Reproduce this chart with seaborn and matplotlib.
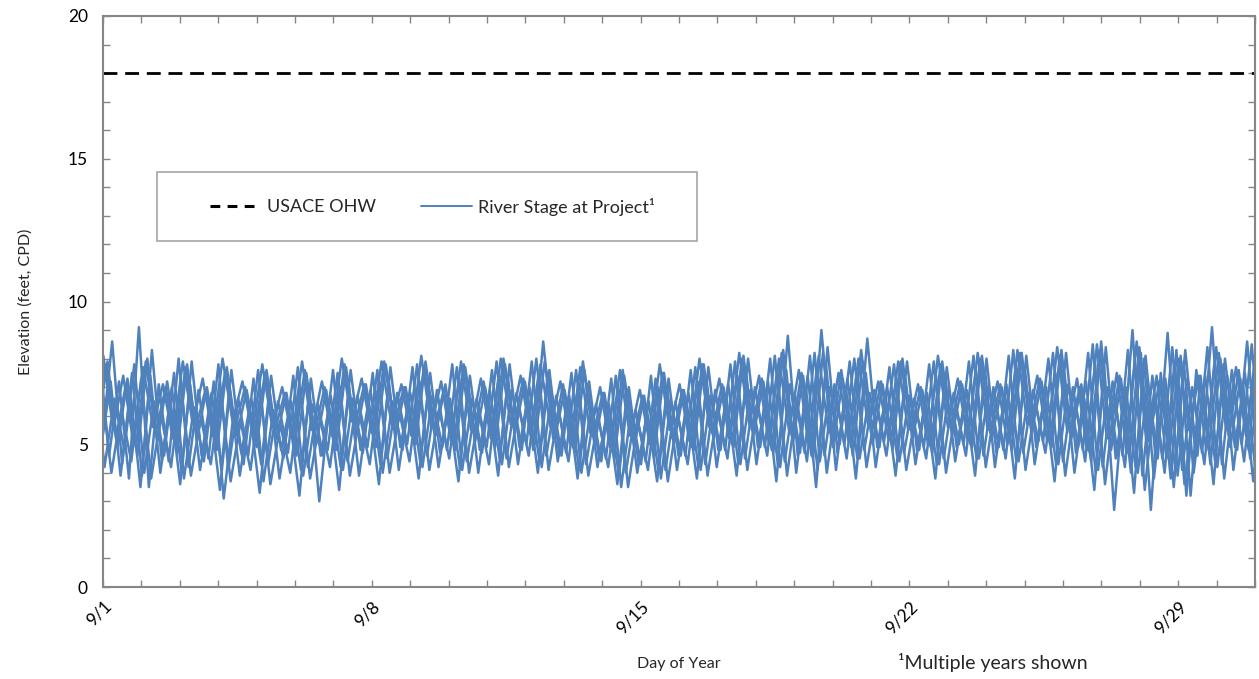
import numpy as np
import pandas as pd
import matplotlib
matplotlib.use("Agg")
import matplotlib.pyplot as plt
from matplotlib.lines import Line2D
from matplotlib.patches import Rectangle
from matplotlib.ticker import MultipleLocator
import seaborn as sns

# Tidal high/low extremes of the river stage (feet, CPD), one list per year,
# successive extremes ~6.21 hours apart.
TIDE_STEP_DAYS = 0.25875
start_offsets = [-0.10, -0.02, -0.18, -0.06, -0.22, -0.14, -0.04, -0.25]

stage_y1 = [8.3, 4.6, 7.2, 3.8, 9.1, 3.5, 7.1, 4.4, 8.0, 4.2, 6.9, 4.5, 7.8, 4.1, 6.6, 4.6,
            7.6, 4.3, 6.5, 4.7, 7.7, 4.2, 6.4, 4.8, 7.5, 4.4, 6.7, 4.9, 7.6, 4.5, 6.8, 5.0,
            7.8, 4.6, 6.9, 4.8, 7.7, 4.4, 6.6, 4.9, 7.9, 4.5, 6.8, 5.0, 8.0, 4.6, 6.7, 4.7,
            7.6, 4.3, 6.4, 4.5, 7.4, 4.0, 6.2, 4.4, 7.3, 4.1, 6.5, 4.6, 7.7, 4.3, 6.9, 4.8,
            7.9, 4.5, 7.0, 4.9, 8.1, 4.4, 6.8, 4.7, 8.2, 4.6, 7.1, 5.0, 8.0, 4.8, 6.9, 5.1,
            7.8, 4.7, 6.6, 4.9, 7.9, 4.5, 6.8, 5.0, 8.1, 4.6, 7.0, 4.8, 8.3, 4.7, 6.9, 5.1,
            8.2, 4.4, 7.0, 4.8, 8.5, 4.2, 7.2, 4.6, 9.0, 3.9, 7.4, 4.5, 8.4, 4.1, 7.0, 4.7,
            9.1, 4.3, 7.6, 5.0, 8.5, 4.4]
stage_y2 = [5.2, 8.6, 4.3, 7.5, 3.9, 8.3, 4.4, 7.0, 4.0, 7.9, 4.6, 6.8, 4.2, 7.6, 4.7, 6.6,
            4.3, 7.4, 4.8, 6.5, 4.1, 7.3, 4.6, 6.7, 4.2, 7.6, 4.8, 6.9, 4.3, 7.7, 4.9, 6.8,
            4.4, 7.5, 4.7, 6.6, 4.2, 7.4, 4.8, 6.9, 4.5, 7.8, 4.9, 7.0, 4.4, 7.6, 4.6, 6.7,
            4.1, 7.2, 4.5, 6.4, 3.9, 7.0, 4.3, 6.5, 4.0, 7.3, 4.6, 6.8, 4.2, 7.7, 4.8, 7.1,
            4.4, 8.0, 4.9, 7.2, 4.3, 8.8, 4.6, 7.4, 4.1, 8.4, 4.7, 7.3, 4.5, 8.7, 4.9, 7.0,
            4.6, 7.9, 4.8, 6.8, 4.3, 7.7, 4.9, 6.9, 4.5, 8.0, 4.7, 7.1, 4.4, 8.1, 4.9, 7.0,
            4.3, 8.2, 4.7, 7.2, 4.0, 8.4, 4.5, 7.0, 4.2, 8.1, 4.6, 7.3, 4.1, 8.3, 4.8, 7.4,
            4.4, 8.0, 4.9, 7.5, 4.3, 8.2]
stage_y3 = [6.0, 7.8, 5.2, 7.1, 4.9, 7.9, 5.4, 7.0, 5.0, 7.7, 5.5, 6.9, 5.1, 7.6, 5.6, 7.0,
            5.2, 7.5, 5.5, 6.8, 5.0, 7.6, 5.4, 7.0, 5.1, 7.8, 5.6, 7.1, 5.3, 7.9, 5.7, 7.0,
            5.2, 7.7, 5.5, 6.9, 5.0, 7.8, 5.4, 7.2, 5.1, 8.0, 5.6, 7.3, 4.8, 8.6, 5.2, 7.1,
            4.9, 7.9, 5.3, 6.8, 4.7, 7.6, 5.1, 6.7, 4.8, 7.5, 5.2, 6.9, 4.9, 7.8, 5.4, 7.1,
            5.0, 8.0, 5.5, 7.3, 4.8, 8.2, 5.3, 7.5, 4.6, 9.0, 5.1, 7.6, 4.9, 8.3, 5.4, 7.2,
            5.1, 7.9, 5.5, 7.0, 4.9, 7.8, 5.6, 7.2, 5.0, 8.0, 5.4, 7.1, 5.2, 8.2, 5.7, 7.3,
            5.0, 8.1, 5.4, 7.0, 4.7, 8.3, 5.2, 7.4, 4.6, 8.4, 5.1, 7.2, 4.8, 8.0, 5.5, 7.4,
            4.9, 8.2, 5.3, 7.6, 4.8, 8.8]
stage_y4 = [4.8, 7.2, 3.9, 6.8, 3.5, 7.4, 4.0, 6.5, 3.6, 7.1, 4.1, 6.3, 3.4, 6.9, 3.9, 6.2,
            3.3, 6.8, 3.8, 6.0, 3.2, 6.9, 3.0, 6.3, 3.4, 7.0, 3.9, 6.4, 3.6, 7.2, 4.1, 6.5,
            3.8, 7.0, 4.2, 6.3, 3.7, 7.1, 4.0, 6.6, 3.9, 7.3, 4.3, 6.7, 4.0, 7.5, 4.4, 6.6,
            3.8, 7.1, 4.2, 6.2, 3.6, 6.9, 4.0, 6.1, 3.7, 7.0, 4.1, 6.4, 3.8, 7.2, 4.2, 6.6,
            3.9, 7.4, 4.3, 6.8, 3.7, 7.6, 4.0, 6.9, 3.5, 7.8, 4.1, 7.0, 3.8, 7.5, 4.2, 6.7,
            3.9, 7.3, 4.3, 6.5, 3.8, 7.4, 4.4, 6.6, 3.9, 7.6, 4.2, 6.8, 3.8, 7.7, 4.3, 6.7,
            3.7, 7.5, 4.0, 6.6, 3.4, 7.7, 2.7, 6.9, 3.3, 8.0, 3.8, 7.1, 3.5, 7.9, 4.0, 6.9,
            3.6, 7.8, 4.1, 7.0, 3.7, 7.6]
stage_y5 = [7.6, 4.2, 6.6, 4.8, 7.8, 4.0, 6.5, 4.6, 7.5, 3.8, 6.3, 4.4, 7.2, 3.1, 6.1, 4.3,
            7.3, 3.7, 6.2, 4.5, 7.4, 3.9, 6.4, 4.6, 7.6, 4.1, 6.6, 4.7, 7.5, 4.0, 6.5, 4.8,
            7.7, 4.2, 6.7, 4.9, 7.8, 4.1, 6.6, 4.7, 7.6, 4.3, 6.9, 4.8, 7.9, 4.2, 6.8, 4.6,
            7.5, 4.0, 6.4, 4.4, 7.3, 3.5, 6.2, 4.3, 7.4, 3.8, 6.5, 4.6, 7.6, 4.1, 6.7, 4.8,
            7.8, 4.3, 6.9, 4.9, 8.0, 4.2, 7.1, 4.7, 8.1, 4.4, 7.0, 5.0, 7.9, 4.5, 6.8, 4.9,
            7.7, 4.4, 6.7, 4.8, 7.8, 4.3, 6.9, 5.0, 7.9, 4.5, 7.0, 4.9, 8.1, 4.4, 6.8, 5.1,
            8.0, 4.3, 7.1, 4.9, 8.2, 4.1, 7.0, 4.6, 8.3, 4.0, 7.2, 4.5, 8.9, 3.9, 7.3, 4.6,
            8.4, 4.2, 7.4, 4.8, 8.6, 4.5]
stage_y6 = [5.6, 7.9, 4.9, 7.3, 4.6, 8.0, 5.1, 7.2, 4.7, 7.8, 5.2, 7.0, 4.8, 7.7, 5.3, 6.9,
            4.9, 7.6, 5.2, 6.8, 4.6, 7.5, 5.0, 6.9, 4.8, 7.7, 5.3, 7.1, 4.9, 7.8, 5.4, 7.0,
            5.0, 7.9, 5.3, 7.1, 4.8, 7.7, 5.1, 7.0, 4.9, 7.8, 5.4, 7.2, 5.0, 7.9, 5.2, 6.9,
            4.7, 7.6, 5.0, 6.8, 4.5, 7.4, 4.9, 6.7, 4.6, 7.5, 5.0, 6.9, 4.8, 7.8, 5.2, 7.0,
            4.9, 8.1, 5.3, 7.2, 4.7, 8.3, 5.1, 7.4, 4.5, 8.2, 4.9, 7.3, 4.6, 7.9, 5.0, 7.1,
            4.8, 8.0, 5.2, 6.9, 4.7, 7.9, 5.3, 7.1, 4.9, 8.1, 5.2, 7.0, 4.8, 8.2, 5.4, 7.2,
            4.9, 8.3, 5.2, 7.1, 4.4, 8.6, 4.8, 7.3, 4.0, 8.2, 2.7, 7.5, 3.8, 8.1, 3.2, 7.4,
            4.3, 8.0, 4.9, 7.3, 4.5, 7.9]
stage_y7 = [7.0, 4.0, 6.2, 4.4, 7.3, 3.8, 6.0, 4.2, 7.1, 3.9, 5.9, 4.3, 6.9, 3.7, 5.8, 4.1,
            6.8, 3.6, 5.7, 4.0, 6.9, 3.8, 5.9, 4.2, 7.0, 3.9, 6.0, 4.3, 7.1, 4.0, 6.1, 4.4,
            7.2, 4.1, 6.2, 4.5, 7.3, 4.0, 6.1, 4.3, 7.4, 4.2, 6.3, 4.6, 7.5, 4.1, 6.2, 4.4,
            7.1, 3.9, 5.9, 4.2, 6.9, 3.5, 5.8, 4.1, 7.0, 3.7, 6.0, 4.3, 7.2, 3.9, 6.2, 4.5,
            7.4, 4.1, 6.4, 4.6, 7.6, 3.9, 6.5, 4.4, 7.7, 4.0, 6.6, 4.5, 7.5, 4.2, 6.4, 4.6,
            7.3, 4.1, 6.2, 4.5, 7.4, 4.0, 6.3, 4.6, 7.6, 4.2, 6.5, 4.5, 7.7, 4.1, 6.4, 4.7,
            7.5, 3.9, 6.5, 4.4, 7.8, 3.6, 6.6, 4.2, 8.0, 3.4, 6.7, 4.0, 7.9, 3.6, 6.6, 4.3,
            7.8, 3.8, 6.9, 4.4, 7.7, 4.0]
stage_y8 = [6.4, 8.1, 5.5, 7.4, 5.1, 7.7, 5.6, 7.1, 5.2, 7.9, 5.7, 7.3, 5.3, 8.0, 5.8, 7.2,
            5.4, 7.8, 5.6, 7.0, 5.2, 7.9, 5.5, 7.2, 5.3, 8.0, 5.8, 7.3, 5.4, 7.9, 5.7, 7.1,
            5.3, 8.1, 5.6, 7.2, 5.1, 7.9, 5.5, 7.3, 5.2, 8.0, 5.7, 7.4, 5.3, 7.8, 5.6, 7.2,
            5.0, 7.7, 5.4, 7.0, 4.9, 7.6, 5.3, 6.9, 5.0, 7.8, 5.5, 7.1, 5.1, 8.0, 5.6, 7.3,
            5.2, 8.2, 5.7, 7.4, 5.0, 8.0, 5.5, 7.6, 4.9, 8.1, 5.4, 7.5, 5.1, 8.0, 5.6, 7.2,
            5.2, 7.9, 5.5, 7.1, 5.0, 8.1, 5.6, 7.3, 5.1, 8.2, 5.5, 7.2, 5.0, 8.3, 5.7, 7.4,
            5.1, 8.4, 5.5, 7.3, 4.8, 8.5, 5.2, 7.5, 4.7, 8.6, 5.0, 7.4, 4.5, 8.3, 3.2, 7.6,
            4.8, 8.4, 5.5, 7.7, 5.3, 8.1]

stage_by_year = [stage_y1, stage_y2, stage_y3, stage_y4,
                 stage_y5, stage_y6, stage_y7, stage_y8]
year_labels = ["Year 1", "Year 2", "Year 3", "Year 4",
               "Year 5", "Year 6", "Year 7", "Year 8"]

ohw_elevation = 18.0
x_tick_days = [0, 7, 14, 21, 28]
x_tick_labels = ["9/1", "9/8", "9/15", "9/22", "9/29"]
y_ticks = [0, 5, 10, 15, 20]

# Long-form table: one row per tidal extreme
frames = []
for label, offset, values in zip(year_labels, start_offsets, stage_by_year):
    days = offset + TIDE_STEP_DAYS * np.arange(len(values))
    frames.append(pd.DataFrame({"day": days, "stage": values, "year": label}))
stage_df = pd.concat(frames, ignore_index=True)

sns.set_theme(style="white")
plt.rcParams["font.family"] = ["Lato", "DejaVu Sans"]

BLUE = "#4F81BD"
SPINE = "#868686"

fig = plt.figure(figsize=(12.59, 6.79), dpi=100)
ax = fig.add_axes([103 / 1259, 1 - 587 / 679, 1152 / 1259, 571 / 679])

sns.lineplot(data=stage_df, x="day", y="stage", units="year", estimator=None,
             color=BLUE, linewidth=1.8, ax=ax, legend=False)
for line in ax.get_lines():
    line.set_solid_joinstyle("round")
    line.set_solid_capstyle("round")
ax.axhline(ohw_elevation, color="black", linewidth=2.0, linestyle=(0, (5, 2.8)))

ax.set_xlim(0, 30)
ax.set_ylim(0, 20)

ax.set_xticks(x_tick_days)
ax.set_xticklabels(x_tick_labels, rotation=45, ha="right", rotation_mode="anchor",
                   fontsize=12.5)
ax.xaxis.set_minor_locator(MultipleLocator(1))
ax.set_yticks(y_ticks)
ax.set_yticklabels([str(v) for v in y_ticks], fontsize=12.5)
ax.yaxis.set_minor_locator(MultipleLocator(1))

ax.tick_params(which="both", direction="in", length=5, width=1, color=SPINE,
               top=True, right=True, bottom=True, left=True, labelcolor="black")
ax.tick_params(axis="x", which="major", pad=8)
ax.tick_params(axis="y", which="major", pad=11)
for side in ["left", "right", "top", "bottom"]:
    ax.spines[side].set_visible(True)
    ax.spines[side].set_color(SPINE)
    ax.spines[side].set_linewidth(1.5)

ax.set_xlabel("Day of Year", fontsize=11.5, labelpad=15)
ax.set_ylabel("Elevation (feet, CPD)", fontsize=11.5, labelpad=25)

# Legend in a framed box
box = Rectangle((54 / 1152, (587 - 241) / 571), 540 / 1152, 69 / 571,
                transform=ax.transAxes, facecolor="white", edgecolor="#A6A6A6",
                linewidth=1.2, zorder=4)
ax.add_patch(box)
handles = [Line2D([], [], color="black", linewidth=2.2, linestyle=(0, (3.2, 2.4))),
           Line2D([], [], color=BLUE, linewidth=1.4)]
leg = ax.legend(handles, ["USACE OHW", "River Stage at Project\u00b9"],
                loc="center left", bbox_to_anchor=(107 / 1152, (587 - 206.5) / 571),
                ncol=2, frameon=False, fontsize=13, handlelength=2.85,
                handletextpad=0.3, columnspacing=2.5, borderpad=0, borderaxespad=0)
leg.set_zorder(5)

fig.text(898 / 1259, 1 - 663 / 679, "\u00b9Multiple years shown", fontsize=14,
         ha="left", va="center")

fig.savefig("out.png", dpi=100)
